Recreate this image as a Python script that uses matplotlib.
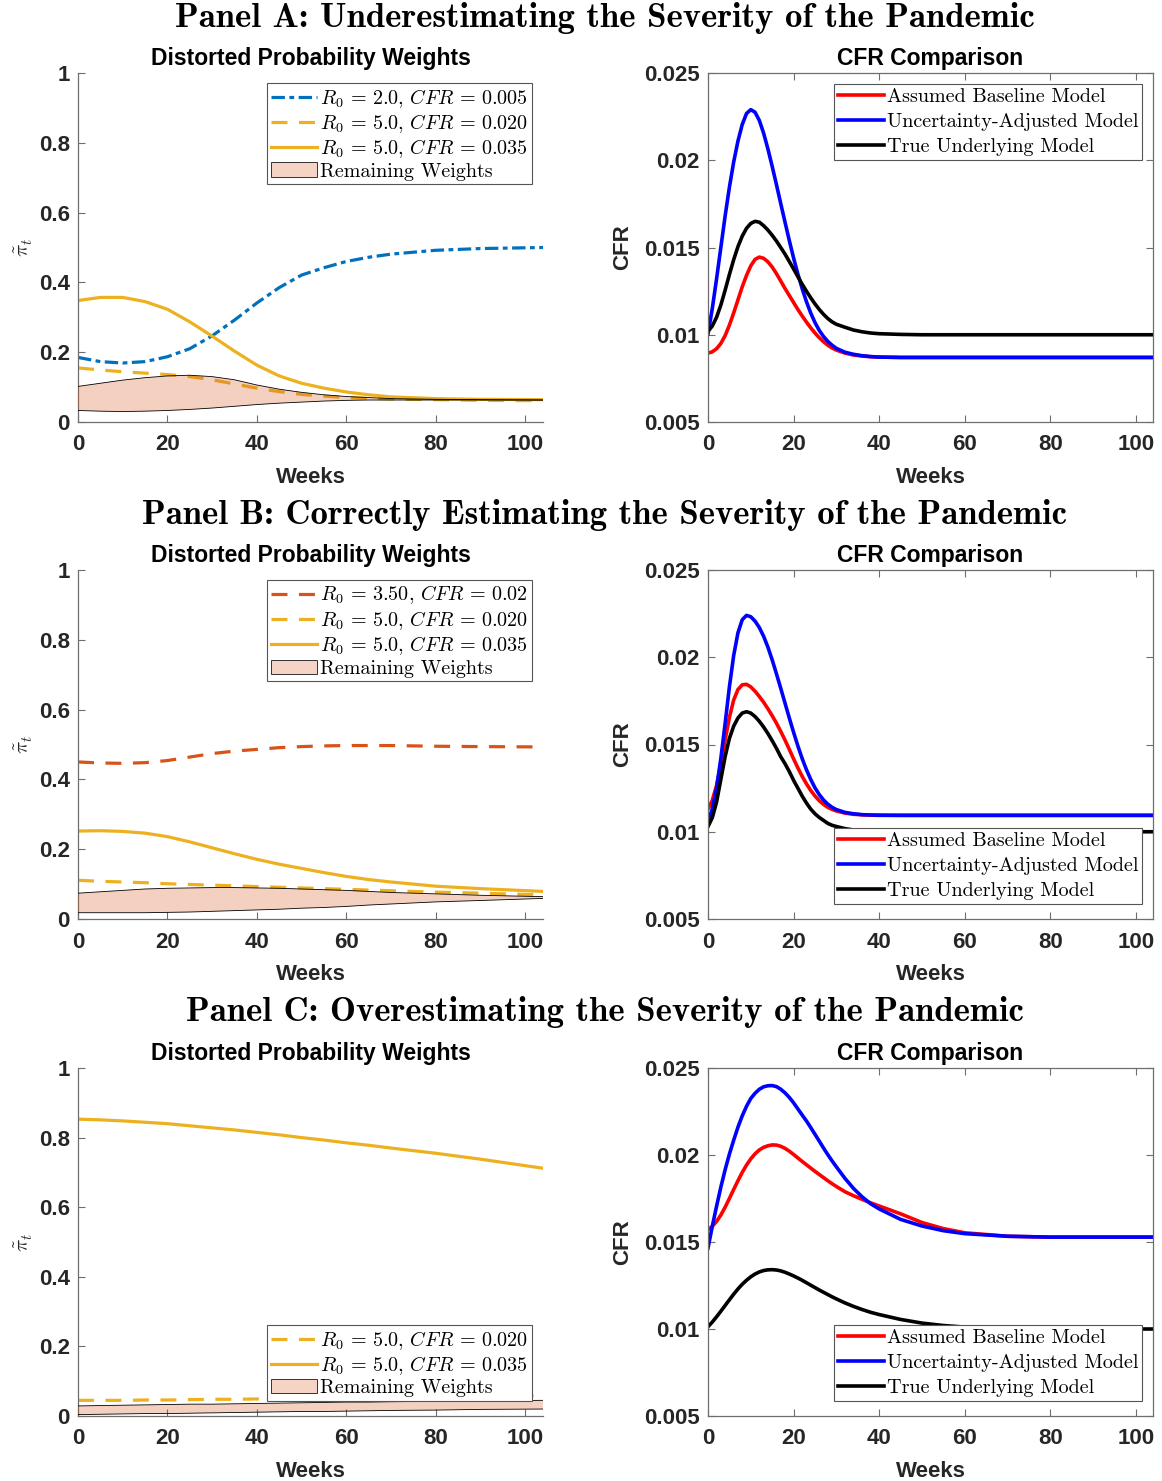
import matplotlib
matplotlib.use("Agg")
import matplotlib.pyplot as plt
from matplotlib.patches import Patch
from matplotlib.ticker import FixedLocator, FixedFormatter

plt.rcParams['mathtext.fontset'] = 'cm'
plt.rcParams['font.family'] = ['Liberation Sans', 'DejaVu Sans']

# ---------------- data ----------------
weeks_w = [0, 5, 10, 15, 20, 25, 30, 35, 40, 45, 50, 55, 60, 65, 70, 80, 90, 104]
weeks_c = [0, 1, 2, 3, 4, 5, 6, 7, 8, 9, 10, 11, 12, 13, 14, 15, 16, 17, 18, 19, 20,
           21, 22, 23, 24, 25, 26, 27, 28, 29, 30, 32, 34, 36, 38, 40, 45, 50, 55, 60, 70, 80, 90, 104]

# Panel A weights
a_r2 = [.185, .173, .169, .173, .187, .21, .247, .292, .341, .385, .421, .442, .46, .472, .481, .492, .497, .5]
a_r5_020 = [.155, .149, .144, .140, .136, .130, .121, .109, .097, .087, .079, .074, .070, .068, .066, .064, .062, .061]
a_r5_035 = [.348, .357, .357, .345, .323, .287, .246, .203, .163, .132, .111, .097, .086, .078, .072, .067, .065, .064]
a_rem_hi = [.102, .111, .120, .127, .132, .134, .130, .121, .106, .094, .085, .078, .073, .070, .067, .065, .064, .063]
a_rem_lo = [.033, .031, .030, .031, .033, .036, .040, .045, .050, .054, .057, .060, .062, .063, .063, .063, .063, .063]

# Panel B weights
b_r35 = [.450, .447, .446, .448, .454, .464, .474, .481, .486, .491, .494, .496, .497, .497, .497, .495, .494, .493]
b_r5_020 = [.111, .108, .106, .104, .101, .099, .097, .095, .093, .091, .089, .087, .085, .083, .081, .077, .074, .069]
b_r5_035 = [.252, .253, .251, .246, .236, .221, .204, .187, .171, .157, .145, .133, .122, .113, .106, .094, .087, .079]
b_rem_hi = [.074, .078, .082, .086, .088, .089, .090, .090, .089, .088, .086, .084, .082, .079, .076, .072, .068, .064]
b_rem_lo = [.018, .018, .018, .018, .019, .020, .022, .024, .026, .028, .031, .033, .036, .040, .043, .049, .053, .059]

# Panel C weights
c_r5_020 = [.045, .045, .045, .046, .046, .047, .048, .048, .049, .050, .050, .051, .052, .053, .054, .055, .057, .059]
c_r5_035 = [.853, .851, .848, .844, .840, .834, .828, .822, .815, .808, .800, .793, .785, .778, .770, .755, .738, .712]
c_rem_hi = [.029, .030, .031, .032, .033, .034, .034, .035, .036, .037, .038, .039, .040, .040, .041, .042, .044, .045]
c_rem_lo = [.004, .005, .006, .007, .007, .008, .009, .010, .011, .012, .013, .013, .014, .015, .016, .017, .019, .020]

# CFR comparison series (one value per entry of weeks_c)
a_base = [.00895, .00902, .00920, .00950, .00995, .01055, .01125, .01200, .01275, .01340, .01395, .01432, .01445,
          .01438, .01418, .01388, .01350, .01308, .01265, .01225, .01185, .01145, .01108, .01073, .01040, .01010,
          .00983, .00960, .00940, .00924, .00912, .00895, .00884, .00878, .00874, .00872, .0087, .0087, .0087,
          .0087, .0087, .0087, .0087, .0087]
a_unc = [.01005, .01150, .01320, .01500, .01680, .01845, .01990, .02110, .02205, .02268, .02290, .02275, .02228,
         .02155, .02065, .01965, .01860, .01752, .01645, .01540, .01440, .01348, .01265, .01190, .01125, .01070,
         .01025, .00990, .00962, .00940, .00922, .00900, .00888, .00880, .00875, .00872, .0087, .0087, .0087,
         .0087, .0087, .0087, .0087, .0087]
a_true = [.01020, .01050, .01100, .01170, .01255, .01345, .01430, .01505, .01565, .01610, .01638, .01650, .01645,
          .01625, .01600, .01570, .01537, .01500, .01462, .01420, .01377, .01333, .01290, .01250, .01212, .01177,
          .01145, .01117, .01093, .01074, .01060, .01043, .01027, .01017, .01010, .01006, .01002, .0100, .0100,
          .0100, .0100, .0100, .0100, .0100]

b_base = [.01130, .01180, .01265, .01385, .01525, .01655, .01755, .01815, .01842, .01845, .01830, .01805, .01775,
          .01742, .01705, .01665, .01622, .01575, .01525, .01472, .01418, .01366, .01318, .01275, .01237, .01205,
          .01178, .01157, .01140, .01128, .01119, .01107, .01100, .01097, .01095, .01094, .01094, .01094, .01094,
          .01094, .01094, .01094, .01094, .01094]
b_unc = [.01060, .01130, .01250, .01420, .01620, .01830, .02010, .02140, .02215, .02240, .02232, .02207, .02170,
         .02120, .02058, .01985, .01905, .01822, .01737, .01652, .01570, .01492, .01420, .01356, .01300, .01252,
         .01213, .01182, .01158, .01140, .01127, .01111, .01103, .01098, .01096, .01095, .01094, .01094, .01094,
         .01094, .01094, .01094, .01094, .01094]
b_true = [.01030, .01080, .01170, .01300, .01430, .01535, .01605, .01652, .01680, .01688, .01680, .01660, .01633,
          .01600, .01563, .01522, .01478, .01430, .01390, .01345, .01295, .01250, .01205, .01165, .01130, .01103,
          .01082, .01065, .01048, .01037, .01030, .01018, .01010, .01005, .01002, .0100, .0100, .0100, .0100,
          .0100, .0100, .0100, .0100, .0100]

c_base = [.01571, .01590, .01618, .01655, .01700, .01750, .01802, .01852, .01900, .01942, .01978, .02007, .02029,
          .02044, .02053, .02058, .02057, .02050, .02038, .02022, .02003, .01983, .01963, .01944, .01925, .01906,
          .01888, .01870, .01852, .01835, .01819, .01789, .01766, .01745, .01725, .01707, .01662, .01612, .01577,
          .01553, .01533, .01528, .01528, .01528]
c_unc = [.01465, .01590, .01705, .01815, .01915, .02005, .02085, .02160, .02225, .02280, .02325, .02355, .02378,
         .02392, .02398, .02399, .02393, .02378, .02357, .02331, .02300, .02265, .02230, .02196, .02158, .02119,
         .02080, .02040, .02002, .01966, .01932, .01866, .01808, .01760, .01720, .01690, .01630, .01592, .01565,
         .01548, .01533, .01528, .01528, .01528]
c_true = [.01013, .01040, .01070, .01102, .01135, .01168, .01200, .01230, .01257, .01280, .01300, .01316, .01328,
          .01336, .01340, .01341, .01339, .01334, .01326, .01316, .01305, .01293, .01280, .01266, .01252, .01238,
          .01224, .01211, .01198, .01185, .01173, .01150, .01130, .01112, .01096, .01083, .01055, .01034, .01020,
          .01011, .01003, .01000, .01000, .01000]

panel_titles = ["Panel A: Underestimating the Severity of the Pandemic",
                "Panel B: Correctly Estimating the Severity of the Pandemic",
                "Panel C: Overestimating the Severity of the Pandemic"]
x_ticks = [0, 20, 40, 60, 80, 100]
w_ticks = [0, 0.2, 0.4, 0.6, 0.8, 1]
w_tick_labels = ["0", "0.2", "0.4", "0.6", "0.8", "1"]
c_ticks = [0.005, 0.01, 0.015, 0.02, 0.025]
c_tick_labels = ["0.005", "0.01", "0.015", "0.02", "0.025"]
cfr_labels = ["Assumed Baseline Model", "Uncertainty-Adjusted Model", "True Underlying Model"]

# ---------------- style ----------------
BLUE = '#0072BD'
ORANGE = '#D95319'
YELLOW = '#EDB120'
FILL = '#D95319'
AXC = '#262626'
SPC = '#6e6e6e'
TFS = 16

W, H = 1162, 1481
fig = plt.figure(figsize=(W / 100, H / 100), dpi=100)

def fx(px):
    return px / W

def fy(py):
    return 1 - py / H

rows = [(73, 422), (570, 919), (1068, 1416)]
title_y = [18, 515, 1012]

LW_W = 2.3
LW_C = 2.6
dash_dot = (4.2, 1.4, 1.5, 1.4)
dashed = (5.0, 3.6)

leg_font = {'family': 'cmr10', 'size': 14.5}

def style_weights(ax):
    ax.set_xlim(0, 104)
    ax.set_ylim(0, 1)
    for s in ['top', 'right']:
        ax.spines[s].set_visible(False)
    for s in ['left', 'bottom']:
        ax.spines[s].set_color(SPC)
        ax.spines[s].set_linewidth(0.9)
    ax.xaxis.set_major_locator(FixedLocator(x_ticks))
    ax.yaxis.set_major_locator(FixedLocator(w_ticks))
    ax.yaxis.set_major_formatter(FixedFormatter(w_tick_labels))
    ax.tick_params(direction='in', length=5, width=0.8, color=SPC, labelcolor=AXC,
                   labelsize=TFS)
    ax.tick_params(axis='x', pad=9)
    ax.tick_params(axis='y', pad=6)
    for lab in ax.get_xticklabels() + ax.get_yticklabels():
        lab.set_fontweight('bold')
    ax.set_title("Distorted Probability Weights", fontsize=16.5, fontweight='bold', color='black', pad=6)
    ax.set_xlabel("Weeks", fontsize=TFS, fontweight='bold', color=AXC, labelpad=8)
    ax.set_ylabel(r'$\tilde{\pi}_t$', fontsize=15, color=AXC, labelpad=3)

def style_cfr(ax):
    ax.set_xlim(0, 104)
    ax.set_ylim(0.005, 0.025)
    for s in ax.spines.values():
        s.set_color(SPC)
        s.set_linewidth(0.9)
    ax.xaxis.set_major_locator(FixedLocator(x_ticks))
    ax.yaxis.set_major_locator(FixedLocator(c_ticks))
    ax.yaxis.set_major_formatter(FixedFormatter(c_tick_labels))
    ax.tick_params(direction='in', length=5, width=0.8, color=SPC, labelcolor=AXC,
                   labelsize=TFS, top=True, right=True)
    ax.tick_params(axis='x', pad=9)
    ax.tick_params(axis='y', pad=6)
    for lab in ax.get_xticklabels() + ax.get_yticklabels():
        lab.set_fontweight('bold')
    ax.set_title("CFR Comparison", fontsize=16.5, fontweight='bold', color='black', pad=6)
    ax.set_xlabel("Weeks", fontsize=TFS, fontweight='bold', color=AXC, labelpad=8)
    ax.set_ylabel("CFR", fontsize=TFS, fontweight='bold', color=AXC, labelpad=8)

def add_legend(ax, handles, labels, right_px, top_px, spacing):
    leg = ax.legend(handles, labels, loc='upper right',
                    bbox_to_anchor=(fx(right_px), fy(top_px)), bbox_transform=fig.transFigure,
                    prop=leg_font, frameon=True, fancybox=False, framealpha=1,
                    edgecolor='#555555', borderaxespad=0, borderpad=0.18,
                    handlelength=2.3, handletextpad=0.15, labelspacing=spacing)
    leg.get_frame().set_linewidth(0.8)
    return leg

rem_label = "Remaining Weights"
fill_handle_leg = Patch(facecolor='#F5D3C5', edgecolor='#333333', linewidth=0.7)

weights_sets = [
    dict(first=(a_r2, BLUE, dash_dot, r'$R_0\,=\,2.0,\,CFR\,=\,0.005$'),
         d=a_r5_020, s=a_r5_035, hi=a_rem_hi, lo=a_rem_lo),
    dict(first=(b_r35, ORANGE, dashed, r'$R_0\,=\,3.50,\,CFR\,=\,0.02$'),
         d=b_r5_020, s=b_r5_035, hi=b_rem_hi, lo=b_rem_lo),
    dict(first=None, d=c_r5_020, s=c_r5_035, hi=c_rem_hi, lo=c_rem_lo),
]
cfr_sets = [(a_base, a_unc, a_true), (b_base, b_unc, b_true), (c_base, c_unc, c_true)]
wleg_pos = [(532, 83), (532, 580), (532, 1325)]
cleg_pos = [(1142, 84), (1142, 828), (1142, 1325)]

for i, (top, bot) in enumerate(rows):
    axw = fig.add_axes([fx(78), fy(bot), fx(543) - fx(78), fy(top) - fy(bot)])
    axc = fig.add_axes([fx(708), fy(bot), fx(1153) - fx(708), fy(top) - fy(bot)])
    ws = weights_sets[i]
    handles, labels = [], []
    if ws['first'] is not None:
        vals, col, dsh, lab = ws['first']
        h, = axw.plot(weeks_w, vals, color=col, lw=LW_W, dashes=dsh)
        handles.append(h); labels.append(lab)
    h1, = axw.plot(weeks_w, ws['d'], color=YELLOW, lw=LW_W, dashes=dashed)
    h2, = axw.plot(weeks_w, ws['s'], color=YELLOW, lw=LW_W)
    axw.fill_between(weeks_w, ws['lo'], ws['hi'], facecolor=FILL, alpha=0.27, edgecolor='none', zorder=3)
    axw.plot(weeks_w, ws['hi'], color='black', lw=0.6, zorder=3.1)
    axw.plot(weeks_w, ws['lo'], color='black', lw=0.6, zorder=3.1)
    handles += [h1, h2, fill_handle_leg]
    labels += [r'$R_0\,=\,5.0,\,CFR\,=\,0.020$', r'$R_0\,=\,5.0,\,CFR\,=\,0.035$', rem_label]
    style_weights(axw)
    add_legend(axw, handles, labels, *wleg_pos[i], spacing=0.12)

    base, unc, true = cfr_sets[i]
    hb, = axc.plot(weeks_c, base, color='#FF0000', lw=LW_C)
    hu, = axc.plot(weeks_c, unc, color='#0000FF', lw=LW_C)
    ht, = axc.plot(weeks_c, true, color='black', lw=LW_C)
    style_cfr(axc)
    add_legend(axc, [hb, hu, ht], cfr_labels, *cleg_pos[i], spacing=0.36)

    fig.text(fx(605), fy(title_y[i]), panel_titles[i], ha='center', va='center',
             fontsize=25, family='cmb10', color='black')

fig.savefig("out.png", dpi=100)
